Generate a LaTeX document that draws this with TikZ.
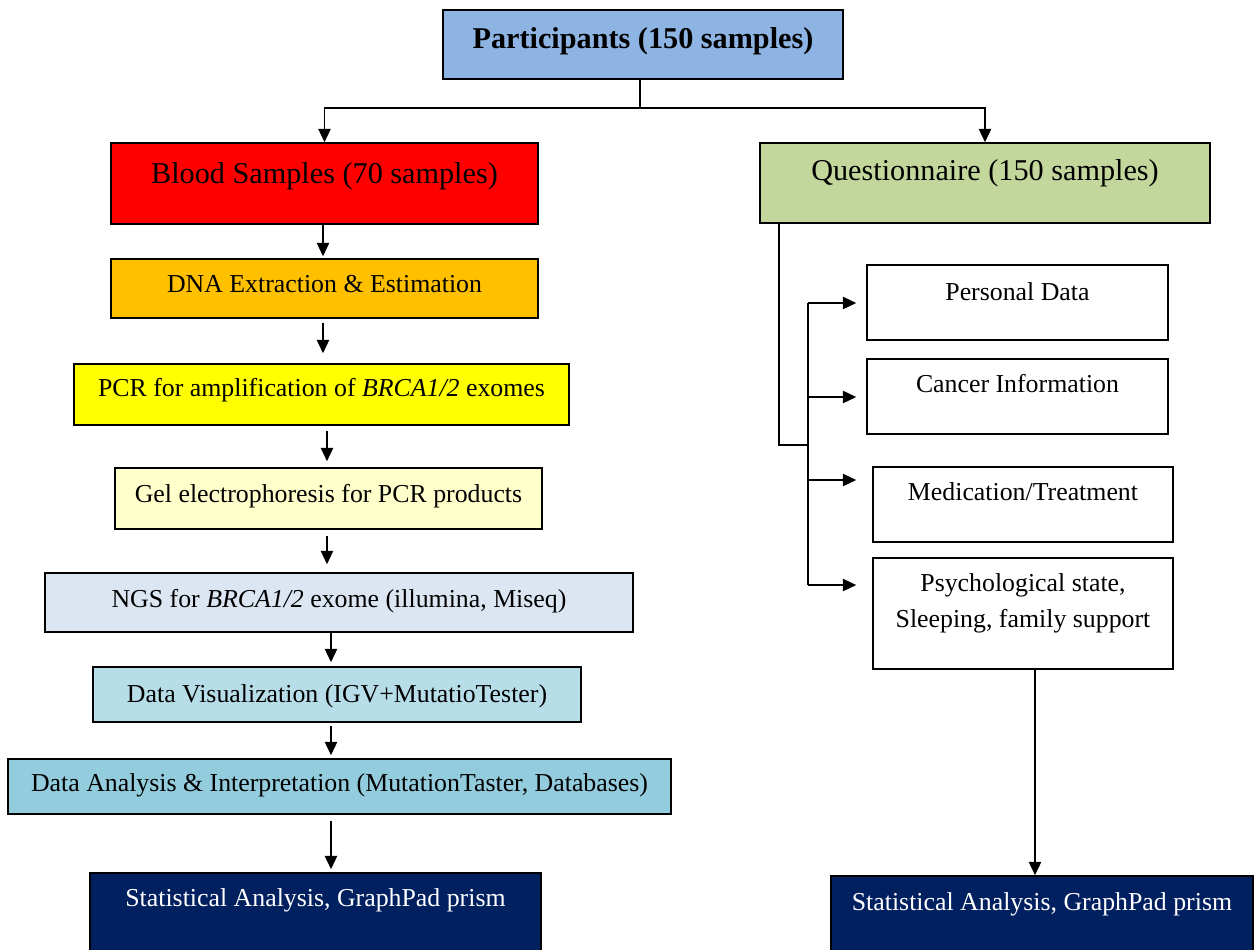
\documentclass[tikz,border=0pt]{standalone}
\usepackage{fontspec}
\setmainfont{Liberation Serif}
\usetikzlibrary{shapes}
\usetikzlibrary{arrows.meta}
\usetikzlibrary{positioning}

\definecolor{partblue}{HTML}{8EB4E3}
\definecolor{bloodred}{HTML}{FF0000}
\definecolor{questgreen}{HTML}{C3D69B}
\definecolor{dnaorange}{HTML}{FFC000}
\definecolor{pcryellow}{HTML}{FFFF00}
\definecolor{gelcream}{HTML}{FFFFCC}
\definecolor{ngsgrey}{HTML}{DCE6F2}
\definecolor{vizblue}{HTML}{B7DEE8}
\definecolor{anablue}{HTML}{93CDDD}
\definecolor{statnavy}{HTML}{002060}

\begin{document}
\begin{tikzpicture}[
  stage/.style n args={4}{rectangle, draw=black, fill=#1, minimum width=#2, minimum height=#3, inner sep=2pt, align=center, text height=10pt, text depth=#4, font=\fontsize{14.7}{20}\selectfont},
  big/.style={text height=12pt, font=\fontsize{17.2}{20}\selectfont},
  line width=0.9pt]
    \tikzset{>={Triangle[length=7.6pt,width=7pt]}}

  \useasboundingbox (0,0) rectangle (25.1,-18.98);

  %% top
  \node[stage={partblue}{8cm}{1.38cm}{8pt}, big, font=\fontsize{17.2}{20}\selectfont\bfseries] (part) at (12.86,-0.89) {Participants (150 samples)};
  \node[stage={bloodred}{8.54cm}{1.62cm}{12pt}, big] (blood) at (6.49,-3.67) {Blood Samples (70 samples)};
  \node[stage={questgreen}{9cm}{1.6cm}{15.4pt}, big] (quest) at (19.7,-3.66) {Questionnaire (150 samples)};

  %% blood branch
  \node[stage={dnaorange}{8.54cm}{1.18cm}{6pt}] (dna) at (6.49,-5.77) {DNA Extraction \& Estimation};
  \node[stage={pcryellow}{9.9cm}{1.22cm}{7.2pt}] (pcr) at (6.43,-7.89) {PCR for amplification of \textit{BRCA1/2} exomes};
  \node[stage={gelcream}{8.54cm}{1.22cm}{6pt}] (gel) at (6.57,-9.97) {Gel electrophoresis for PCR products};
  \node[stage={ngsgrey}{11.76cm}{1.18cm}{4.8pt}] (ngs) at (6.78,-12.05) {NGS for \textit{BRCA1/2} exome (illumina, Miseq)};
  \node[stage={vizblue}{9.76cm}{1.1cm}{1.4pt}] (viz) at (6.74,-13.89) {Data Visualization (IGV+MutatioTester)};
  \node[stage={anablue}{13.26cm}{1.1cm}{3.8pt}] (ana) at (6.79,-15.73) {Data Analysis \& Interpretation (MutationTaster, Databases)};
  \node[stage={statnavy}{9.02cm}{1.64cm}{18pt}, text=white] (statL) at (6.31,-18.28) {Statistical Analysis, GraphPad prism};

  %% questionnaire branch
  \node[stage={white}{6.02cm}{1.5cm}{11.8pt}] (personal) at (20.35,-6.05) {Personal Data};
  \node[stage={white}{6.02cm}{1.5cm}{14pt}] (cancer) at (20.35,-7.93) {Cancer Information};
  \node[stage={white}{6cm}{1.5cm}{14pt}] (medic) at (20.46,-10.09) {Medication/Treatment};
  \node[stage={white}{6cm}{2.22cm}{14.6pt}, text height=30pt] (psych) at (20.46,-12.27) {Psychological state,\\Sleeping, family support};
  \node[stage={statnavy}{8.44cm}{1.58cm}{15.2pt}, text=white] (statR) at (20.84,-18.31) {Statistical Analysis, GraphPad prism};

  %% split from participants
  \coordinate (split) at (12.8,-2.16);
  \draw (part.south -| split) -- (split);
  \draw[->] (split) -| (blood.north);
  \draw[->] (split) -| (quest.north);

  %% left chain
  \foreach \a/\b/\x/\s/\e in {blood/dna/6.46/0cm/0.04cm, dna/pcr/6.46/0.08cm/0.2cm, pcr/gel/6.54/0.1cm/0.12cm, gel/ngs/6.54/0.12cm/0.16cm, ngs/viz/6.62/0cm/0.08cm, viz/ana/6.62/0.06cm/0.06cm, ana/statL/6.62/0.12cm/0.06cm}
    \draw[->, shorten <=\s, shorten >=\e] (\a.south -| \x,0) -- (\b.north -| \x,0);

  %% right bus
  \coordinate (qdrop) at (15.58,-8.9);
  \coordinate (bus) at (16.16,-8.9);
  \draw (quest.south -| qdrop) -- (qdrop) -- (bus);

  \foreach \n/\y in {personal/-6.06, cancer/-7.94, medic/-9.6, psych/-11.7}
    \coordinate (tap\n) at (16.16,\y);
  \draw (tappersonal) -- (tappsych);

  \foreach \n/\e in {personal/0.2cm, cancer/0.2cm, medic/0.32cm, psych/0.32cm}
    \draw[->, shorten >=\e] (tap\n) -- (\n.west |- tap\n);

  \draw[->] (psych.south -| 20.7,0) -- (statR.north -| 20.7,0);

\end{tikzpicture}
\end{document}
